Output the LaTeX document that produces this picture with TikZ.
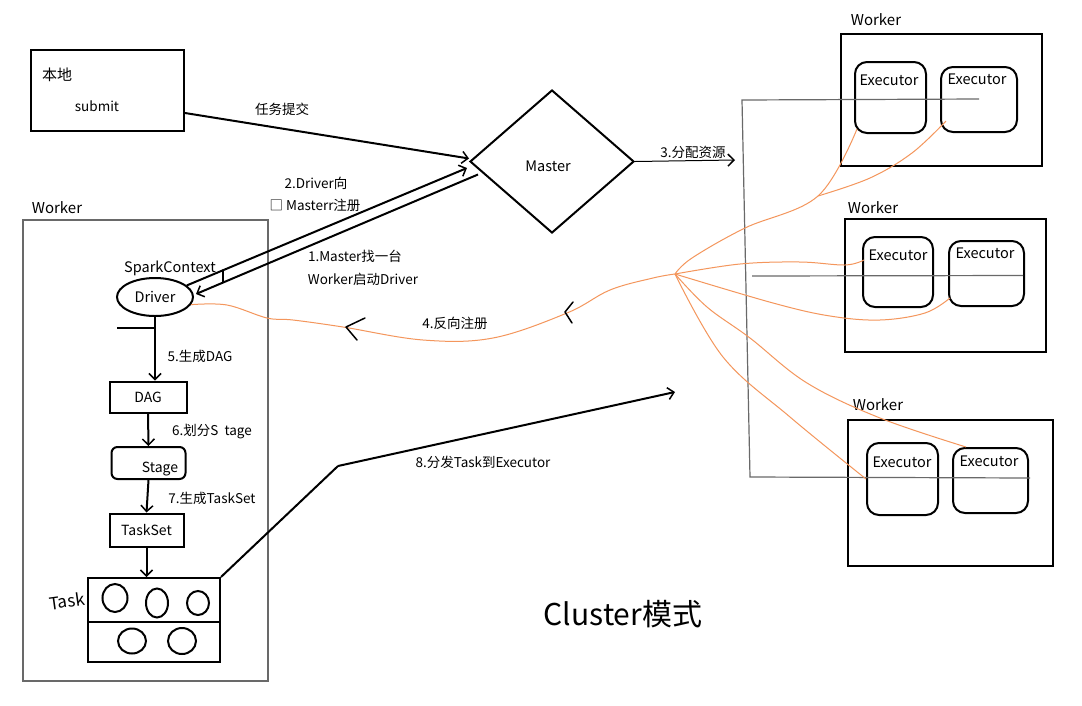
\documentclass[tikz,border=0pt]{standalone}
\usepackage{fontspec}
\setmainfont{Noto Sans CJK SC}
\usetikzlibrary{arrows.meta,shapes.geometric,calc}
\definecolor{graylin}{RGB}{105,105,105}
\definecolor{orangelin}{RGB}{244,150,92}
\begin{document}
\begin{tikzpicture}[x=1pt,y=-1pt,
  box/.style={draw,line width=2pt,inner sep=0pt},
  ebox/.style={draw,line width=2pt,rounded corners=12pt,inner sep=0pt},
  lbl/.style={font=\fontsize{13.5}{16}\selectfont,inner sep=0pt},
  wlbl/.style={font=\fontsize{15}{18}\selectfont,inner sep=0pt},
  etxt/.style={font=\fontsize{14.5}{17}\selectfont,inner sep=0pt},
  barb/.style={-{Straight Barb[length=6pt,width=12pt,line width=1.5pt]}},
  conn/.style={line width=2pt,barb},
  gline/.style={draw=graylin,line width=1.2pt},
  oline/.style={draw=orangelin,line width=1pt},
  hand/.style={line width=1.5pt,line cap=round,line join=round},
  ell/.style={draw,ellipse,line width=2pt,inner sep=0pt},
]
\useasboundingbox (0,0) rectangle (1082,705);
\fill[white] (0,0) rectangle (1082,705);

% local submit
\node[box,minimum width=153pt,minimum height=81pt] (local) at (107.5,90.5) {};
\node[wlbl] (localt) at (57,75) {本地};
\node[lbl] (submit) at (97,106) {submit};

% master
\node[draw,diamond,line width=2pt,minimum width=164pt,minimum height=143pt,inner sep=0pt] (master) at (552,161.5) {};
\node[etxt] (mastert) at (548,166) {Master};

% submit arrow
\draw[conn] ($(local.east)+(0,22.5)$) -- ($(master.west)+(0,-3)$);
\node[lbl] (l0) at (282,109) {任务提交};

% resources arrow
\coordinate (res) at (735,160);
\draw[line width=1pt,barb] (master.east) -- (res);
\node[lbl] (l3) at (693,152) {3.分配资源};

% right workers
\node[box,minimum width=201pt,minimum height=132pt] (w1) at (941.5,100) {};
\node[box,minimum width=201pt,minimum height=133pt] (w2) at (945.5,285.5) {};
\node[box,minimum width=205pt,minimum height=146pt] (w3) at (950.5,493) {};
\node[wlbl] (w1t) at (876,20) {Worker};
\node[wlbl] (w2t) at (873,208) {Worker};
\node[wlbl] (w3t) at (878,405) {Worker};

\node[ebox,minimum width=71pt,minimum height=71pt] (w1e1) at (890.5,97.5) {};
\node[ebox,minimum width=76pt,minimum height=65pt] (w1e2) at (979,99.5) {};
\node[ebox,minimum width=70pt,minimum height=70pt] (w2e1) at (898,272) {};
\node[ebox,minimum width=75pt,minimum height=65pt] (w2e2) at (986.5,273.5) {};
\node[ebox,minimum width=71pt,minimum height=72pt] (w3e1) at (902.5,479) {};
\node[ebox,minimum width=75pt,minimum height=65pt] (w3e2) at (990.5,480.5) {};
\node[etxt] (w1e1t) at (889,80) {Executor};
\node[etxt] (w1e2t) at (977,79) {Executor};
\node[etxt] (w2e1t) at (898,255) {Executor};
\node[etxt] (w2e2t) at (985,253) {Executor};
\node[etxt] (w3e1t) at (902,462) {Executor};
\node[etxt] (w3e2t) at (989,461) {Executor};

% gray bracket
\coordinate (bt) at (742,100);
\coordinate (bb) at (750,477);
\coordinate (bm) at (752,276);
\draw[gline] (w1e2.center |- 0,99) -- (bt) -- (bb) -- (1030,478);
\draw[gline] (bm) -- ($(w2e2.east)+(-2,2)$);

% left worker
\node[draw=graylin,line width=1.2pt,minimum width=245pt,minimum height=461pt,inner sep=0pt] (lw) at (145.5,450.5) {};
\node[wlbl] (lwt) at (57,208) {Worker};

\node[ell,minimum width=76pt,minimum height=38pt,font=\fontsize{14.5}{17}\selectfont] (driver) at (155,297) {Driver};
\node[etxt] (spark) at (170,268) {SparkContext};

\node[box,minimum width=77pt,minimum height=31pt,font=\fontsize{14}{17}\selectfont] (dag) at (148,397) {DAG};
\node[box,rounded corners=6pt,minimum width=74pt,minimum height=32pt] (stage) at (148.5,463) {};
\node[etxt,font=\fontsize{14}{17}\selectfont] (staget) at (160,469) {Stage};
\node[box,minimum width=74pt,minimum height=33pt,font=\fontsize{14}{17}\selectfont] (taskset) at (146.5,530) {TaskSet};
\node[box,minimum width=132pt,minimum height=44pt] (tasktop) at (154,600) {};
\node[box,minimum width=132pt,minimum height=40pt] (taskbot) at (154,642) {};
\node[ell,minimum width=25pt,minimum height=28pt] (t1) at (115,598) {};
\node[ell,minimum width=22pt,minimum height=29pt] (t2) at (157,603) {};
\node[ell,minimum width=22pt,minimum height=24pt] (t3) at (198,603) {};
\node[ell,minimum width=28pt,minimum height=25pt] (t4) at (132,641) {};
\node[ell,minimum width=28pt,minimum height=26pt] (t5) at (182,641) {};
\node[font=\fontsize{17}{20}\selectfont\itshape,inner sep=0pt,rotate=8] (taskt) at (67,601) {Task};

\draw[conn] (driver.south) -- (driver.south |- dag.north);
\draw[line width=2pt] (117,328) -- (driver.south |- 0,328);
\draw[conn] (dag.south) -- (stage.north);
\draw[conn] (stage.south) -- (taskset.north);
\draw[conn] (taskset.south) -- (taskset.south |- tasktop.north);
\node[lbl] (l5) at (200,356) {5.生成DAG};
\node[lbl] (l6) at (212,432) {6.划分S\ \ tage};
\node[lbl] (l7) at (212,498) {7.生成TaskSet};

% driver <-> master
\coordinate (up1) at (467,168);
\coordinate (lo0) at (478,174.5);
\draw[conn] (driver.20) -- (up1);
\draw[conn] (lo0) -- ($(driver.east)+(2,-3)$);
\draw[hand] (223,270) -- (223,282);
\node[lbl] (l2a) at (316,183) {2.Driver向};
\node[lbl] (l2b) at (315,205) {□ Masterr注册};
\node[lbl] (l1a) at (355,256) {1.Master找一台};
\node[lbl] (l1b) at (363,279) {Worker启动Driver};

% orange reverse registration
\coordinate (hub) at (675,274);
\draw[oline] plot[smooth,tension=0.6] coordinates {(driver.-12) (227,305) (267,318) (293,320) (343,327) (423,340) (493,338) (567,313) (610,290) (653,278) (hub)};
\draw[hand] (365,318) -- (346,327) -- (357,340);
\draw[hand] (573,302) -- (565,312) -- (572,323);
\node[lbl] (l4) at (455,323) {4.反向注册};

\coordinate (fork) at (818,196);
\draw[oline] plot[smooth,tension=0.6] coordinates {(hub) (692,258) (745,228) (fork) ($(w1e1.south west)+(3,-5)$)};
\draw[oline] plot[smooth,tension=0.6] coordinates {(fork) (870,178) (912,153) ($(w1e2.south west)+(6,-12)$)};
\draw[oline] plot[smooth,tension=0.6] coordinates {(hub) (740,264) (800,262) (845,265) ($(w2e1.west)+(2,-12)$)};
\draw[oline] plot[smooth,tension=0.6] coordinates {(hub) (773,303) (830,316) (880,320) (925,313) ($(w2e2.south west)+(2,-9)$)};
\draw[oline] plot[smooth,tension=0.6] coordinates {(hub) (707,307) (750,338) (807,383) (880,418) ($(w3e2.north west)+(14,0)$)};
\draw[oline] plot[smooth,tension=0.6] coordinates {(hub) (723,357) (790,417) ($(w3e1.west)+(0,0)$)};

% distribute tasks
\coordinate (bend8) at (338,466);
\coordinate (tgt8) at (675,392);
\draw[line width=2pt] (tasktop.north east) -- (bend8);
\draw[conn] (bend8) -- (tgt8);
\node[lbl] (l8) at (483,462) {8.分发Task到Executor};

\node[font=\fontsize{30}{34}\selectfont,inner sep=0pt] (title) at (623,614) {Cluster模式};
\end{tikzpicture}
\end{document}
